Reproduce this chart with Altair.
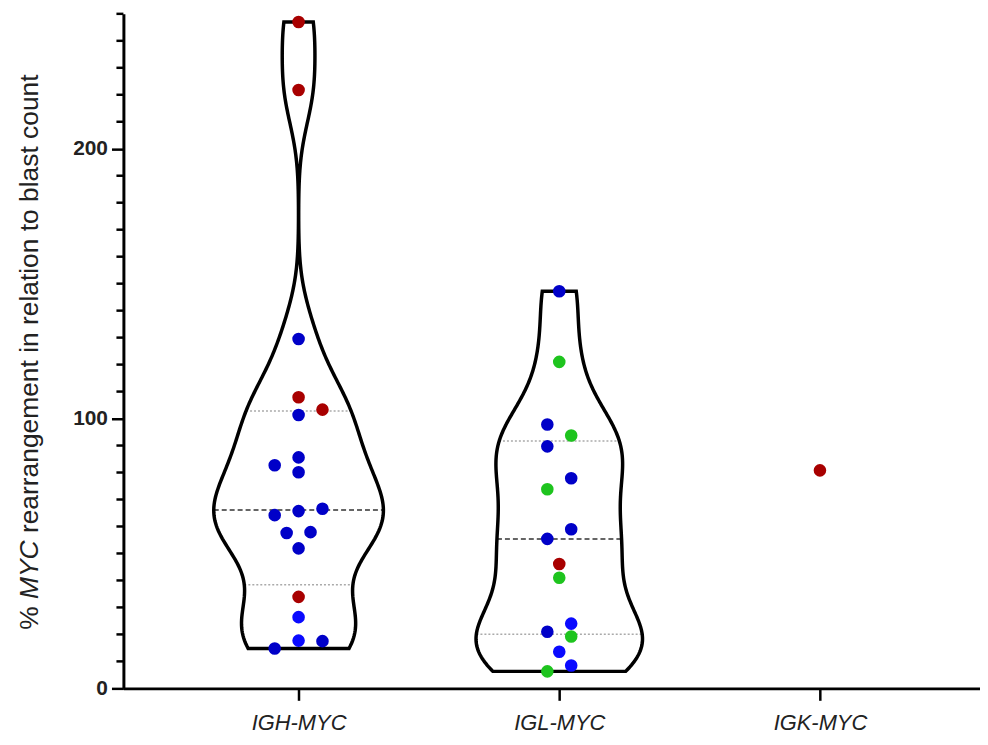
import json
import altair as alt
import numpy as np
import pandas as pd

# ---------------- data ----------------
categories = ["IGH-MYC", "IGL-MYC", "IGK-MYC"]

igh_values = [247.0, 221.8, 129.5, 107.9, 103.3, 101.3, 85.6, 82.7, 80.1,
              66.6, 65.7, 64.2, 57.9, 57.6, 51.9, 33.9, 26.4, 17.7, 17.5, 14.8]
igh_groups = ["A", "A", "B", "A", "A", "B", "B", "B", "B",
              "B", "B", "B", "B", "B", "B", "A", "C", "C", "B", "B"]
igh_slots = [0, 0, 0, 0, 1, 0, 0, -1, 0,
             1, 0, -1, 0.5, -0.5, 0, 0, 0, 0, 1, -1]

igl_values = [147.2, 121.0, 97.8, 93.7, 89.7, 77.9, 73.8, 59.0, 55.4,
              46.1, 41.0, 24.0, 21.0, 19.2, 13.6, 8.5, 6.3]
igl_groups = ["B", "D", "B", "D", "B", "B", "D", "B", "B",
              "A", "D", "C", "B", "D", "C", "C", "D"]
igl_slots = [0, 0, -0.5, 0.5, -0.5, 0.5, -0.5, 0.5, -0.5,
             0, 0, 0.5, -0.5, 0.5, 0, 0.5, -0.5]

igk_values = [80.8]
igk_groups = ["A"]
igk_slots = [0]

group_names = ["A", "B", "C", "D"]
group_colors = ["#a80000", "#0000c8", "#0a0aff", "#1ec41e"]

title_parts = ["%", "MYC", "rearrangement in relation to blast count"]

# ---------------- table ----------------
series = [(igh_values, igh_groups, igh_slots),
          (igl_values, igl_groups, igl_slots),
          (igk_values, igk_groups, igk_slots)]
rows = []
for ci, (vals, grps, slots) in enumerate(series):
    q1, med, q3 = np.quantile(np.array(vals), [0.25, 0.5, 0.75], method="weibull")
    for v, g, s in zip(vals, grps, slots):
        rows.append({"cat": categories[ci], "xc": ci, "value": v, "grp": g,
                     "slot": s, "q1": float(q1), "med": float(med), "q3": float(q3)})
df = pd.DataFrame(rows)

minor_df = pd.DataFrame({"t": [v for v in range(10, 251, 10) if v % 100]})

# ---------------- layout ----------------
W, H = 861, 678
SLOT = 24 / 262.0          # one swarm column in x units
K = 33.0                   # density -> half width (x units)
BW = 14

x_scale = alt.Scale(domain=[-0.672, 2.614], nice=False, zero=False)
y_scale = alt.Scale(domain=[0, 250], nice=False, zero=False)

x_axis = alt.Axis(values=[0, 1, 2],
                  labelExpr=f"{json.dumps(categories)}[datum.value]",
                  grid=False, domainColor="black", domainWidth=3,
                  tickColor="black", tickWidth=2.5, tickSize=12,
                  labelFont="Liberation Sans", labelFontSize=22,
                  labelFontStyle="italic", labelColor="#222",
                  labelPadding=12, title="")
y_axis = alt.Axis(values=[0, 100, 200], grid=False,
                  domainColor="black", domainWidth=3,
                  tickColor="black", tickWidth=2.5, tickSize=12,
                  labelFont="Liberation Sans", labelFontSize=21,
                  labelFontWeight="bold", labelColor="#222",
                  labelPadding=4, title="")


def X(field):
    return alt.X(field, type="quantitative", scale=x_scale, axis=x_axis,
                 title="", stack=False)


def Y(field):
    return alt.Y(field, type="quantitative", scale=y_scale, axis=y_axis, title="")


base = alt.Chart(df)

layers = []
violins = []
for ci, (vals, _, _) in enumerate(series):
    if len(vals) < 2:
        continue
    vb = (base
          .transform_filter(f"datum.xc == {ci}")
          .transform_density("value", groupby=["cat", "xc", "q1", "med", "q3"],
                             bandwidth=BW, steps=240, as_=["v", "d"])
          .transform_calculate(xl=f"datum.xc - datum.d * {K}",
                               xr=f"datum.xc + datum.d * {K}"))
    violins.append(vb.mark_area(orient="horizontal", fillOpacity=0, stroke="black",
                                strokeWidth=3.5, strokeJoin="miter").encode(
        y=Y("v"), x=X("xl"), x2="xr:Q"))
    qb = (vb.transform_fold(["q1", "med", "q3"], as_=["qn", "qv"])
          .transform_calculate(diff="abs(datum.v - datum.qv)")
          .transform_joinaggregate(mind="min(diff)", groupby=["qn"])
          .transform_filter("datum.diff == datum.mind"))
    layers.append(qb.transform_filter("datum.qn != 'med'").mark_rule(
        color="#aaaaaa", strokeWidth=1.5, strokeDash=[2, 2]).encode(
        y=Y("qv"), x=X("xl"), x2="xr:Q"))
    layers.append(qb.transform_filter("datum.qn == 'med'").mark_rule(
        color="#333", strokeWidth=1.5, strokeDash=[5, 3]).encode(
        y=Y("qv"), x=X("xl"), x2="xr:Q"))

points = base.transform_calculate(px=f"datum.xc + datum.slot * {SLOT}").mark_circle(
    size=160, opacity=1).encode(
    x=X("px"), y=Y("value"),
    color=alt.Color("grp:N", scale=alt.Scale(domain=group_names, range=group_colors),
                    legend=None))

minor_ticks = alt.Chart(minor_df).mark_rule(color="black", strokeWidth=2.5).encode(
    y=Y("t"), x=alt.value(-7), x2=alt.value(0))

# y title built from pieces (italic gene name)
FS = 26.5
w_pct = 0.889 * FS
w_sp = 0.278 * FS
w_myc = 2.222 * FS
w_rest = 17.397 * FS
total = w_pct + w_sp + w_myc + w_sp + w_rest
y_bottom = 340 + total / 2
pos = [y_bottom, y_bottom - w_pct - w_sp, y_bottom - w_pct - w_sp - w_myc - w_sp]
styles = ["normal", "italic", "normal"]

title_layers = []
for part, yy, st in zip(title_parts, pos, styles):
    title_layers.append(
        alt.Chart(pd.DataFrame({"t": [part]})).mark_text(
            angle=270, align="left", baseline="middle", font="Liberation Sans",
            fontSize=FS, fontStyle=st, color="#222").encode(
            text="t:N", x=alt.value(-94), y=alt.value(yy)))

chart = alt.layer(*layers, *violins, points, minor_ticks,
                  *title_layers).properties(
    width=W, height=H,
    autosize=alt.AutoSizeParams(type="none"),
    padding={"left": 116, "top": 4, "right": 0, "bottom": 45},
).configure_view(strokeWidth=0)

chart.save("out.html", embed_options={"renderer": "svg", "actions": False})
